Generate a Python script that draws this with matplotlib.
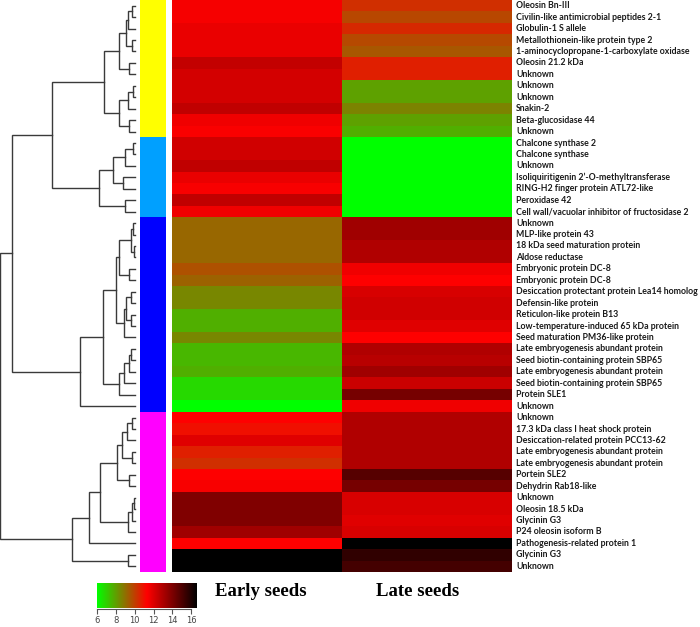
import numpy as np
import matplotlib
matplotlib.use("Agg")
import matplotlib.pyplot as plt
from matplotlib.colors import LinearSegmentedColormap, ListedColormap

# ---------------- data ----------------
proteins = [
    "Oleosin Bn-III", "Civilin-like antimicrobial peptides 2-1", "Globulin-1 S allele",
    "Metallothionein-like protein type 2", "1-aminocyclopropane-1-carboxylate oxidase",
    "Oleosin 21.2 kDa", "Unknown", "Unknown", "Unknown", "Snakin-2",
    "Beta-glucosidase 44", "Unknown", "Chalcone synthase 2", "Chalcone synthase",
    "Unknown", "Isoliquiritigenin 2\u2019-O-methyltransferase",
    "RING-H2 finger protein ATL72-like", "Peroxidase 42",
    "Cell wall/vacuolar inhibitor of fructosidase 2", "Unknown", "MLP-like protein 43",
    "18 kDa seed maturation protein", "Aldose reductase", "Embryonic protein DC-8",
    "Embryonic protein DC-8", "Desiccation protectant protein Lea14 homolog",
    "Defensin-like protein", "Reticulon-like protein B13",
    "Low-temperature-induced 65 kDa protein", "Seed maturation PM36-like protein",
    "Late embryogenesis abundant protein", "Seed biotin-containing protein SBP65",
    "Late embryogenesis abundant protein", "Seed biotin-containing protein SBP65",
    "Protein SLE1", "Unknown", "Unknown", "17.3 kDa class I heat shock protein",
    "Desiccation-related protein PCC13-62", "Late embryogenesis abundant protein",
    "Late embryogenesis abundant protein", "Portein SLE2", "Dehydrin Rab18-like",
    "Unknown", "Oleosin 18.5 kDa", "Glycinin G3", "P24 oleosin isoform B",
    "Pathogenesis-related protein 1", "Glycinin G3", "Unknown",
]

early_seeds = [
    11.45, 11.45, 11.7, 11.7, 11.7, 12.45, 12.15, 12.15, 12.15, 12.55,
    11.55, 11.35, 12.2, 12.2, 12.55, 11.7, 11.4, 12.55, 11.55, 9.15,
    9.15, 9.15, 9.15, 9.6, 9.2, 8.5, 8.5, 7.65, 7.65, 8.5,
    7.5, 7.5, 7.65, 6.8, 6.8, 6.0, 11.25, 10.95, 11.9, 10.6,
    10.3, 11.25, 11.4, 13.85, 13.85, 13.85, 13.2, 11.25, 16.5, 16.5,
]
late_seeds = [
    10.3, 9.8, 10.4, 9.75, 9.45, 10.6, 10.6, 7.95, 7.95, 8.55,
    7.95, 7.65, 6.0, 6.0, 6.0, 6.0, 6.0, 6.0, 6.0, 13.2,
    13.2, 12.85, 12.85, 11.55, 11.25, 12.05, 12.2, 12.2, 11.9, 11.25,
    12.85, 12.7, 13.2, 12.35, 14.05, 11.55, 12.85, 12.85, 12.85, 12.85,
    12.85, 14.7, 14.05, 12.05, 12.05, 11.9, 12.05, 16.5, 15.5, 15.1,
]
columns = ["Early seeds", "Late seeds"]

# cluster membership of every row (0 yellow, 1 light blue, 2 blue, 3 magenta)
cluster_ids = [0] * 12 + [1] * 7 + [2] * 17 + [3] * 14
cluster_colors = ["#FFFF00", "#00A0FF", "#0000FF", "#FF00FF"]

# hierarchical merges: (left, right, height); leaves are 0..49, merges numbered from 50
linkage = [
    (0, 1, 3), (50, 2, 7), (3, 4, 3), (51, 52, 9), (5, 6, 6), (53, 54, 16),
    (7, 8, 2), (56, 9, 7), (10, 11, 6), (57, 58, 16), (55, 59, 31),
    (12, 13, 2), (61, 14, 10), (15, 16, 12), (62, 63, 22), (17, 18, 10), (64, 65, 36),
    (60, 66, 83),
    (19, 20, 2), (21, 22, 1.5), (68, 69, 4), (23, 24, 6), (70, 71, 16),
    (25, 26, 4), (27, 28, 4), (73, 74, 9), (75, 29, 11), (72, 76, 19),
    (30, 31, 4), (78, 32, 6), (79, 33, 11), (80, 34, 16), (77, 81, 32), (82, 35, 55),
    (67, 83, 123),
    (36, 37, 3), (85, 38, 8), (39, 40, 3), (86, 87, 13), (41, 42, 6), (88, 89, 18),
    (43, 44, 1.5), (91, 45, 3), (92, 46, 7), (90, 93, 35), (94, 47, 46),
    (48, 49, 7), (95, 96, 63),
    (84, 97, 135),
]

colorbar_ticks = [6, 8, 10, 12, 14, 16]
vmin, vmax = 6.0, 16.5

# ---------------- figure ----------------
W, H = 700, 627
fig = plt.figure(figsize=(W / 100, H / 100), dpi=100)

def ax_px(x0, y0, w, h):
    return fig.add_axes([x0 / W, 1 - (y0 + h) / H, w / W, h / H])

cmap = LinearSegmentedColormap.from_list(
    "gr_k", [(0.0, "#00FF00"), (0.5, "#FF0000"), (1.0, "#000000")])

n = len(proteins)
top, bottom_px = 0, 572
hm_h = bottom_px - top

# heatmap
ax = ax_px(172, top, 340, hm_h)
data = np.column_stack([early_seeds, late_seeds])
ax.imshow(data, cmap=cmap, vmin=vmin, vmax=vmax, aspect="auto",
          interpolation="nearest", extent=(0, 2, n, 0))
ax.set_xlim(0, 2)
ax.set_ylim(n, 0)
ax.set_xticks([])
ax.set_yticks([])
for s in ax.spines.values():
    s.set_visible(False)
for i, name in enumerate(proteins):
    ax.text(2.024, i + 0.5, name, ha="left", va="center", fontsize=6.3,
            family="Lato", fontweight="bold", color="#1a1a1a")

# cluster side colour bar
axc = ax_px(140, top, 26, hm_h)
axc.imshow(np.array(cluster_ids).reshape(-1, 1), cmap=ListedColormap(cluster_colors),
           vmin=-0.5, vmax=3.5, aspect="auto", interpolation="nearest",
           extent=(0, 1, n, 0))
axc.set_xlim(0, 1)
axc.set_ylim(n, 0)
axc.axis("off")

# dendrogram
axd = ax_px(0, top, 135, hm_h)
pos = {i: (i + 0.5, 0.0) for i in range(n)}
for k, (a, b, h) in enumerate(linkage):
    ya, ha = pos[a]
    yb, hb = pos[b]
    axd.plot([ha, h, h, hb], [ya, ya, yb, yb], color="#3a3a3a", lw=1.0,
             solid_joinstyle="miter", clip_on=False)
    pos[n + k] = ((ya + yb) / 2, h)
axd.set_xlim(135, 0)
axd.set_ylim(n, 0)
axd.axis("off")

# colour key
axk = ax_px(97, 583, 99, 25)
grad = np.linspace(vmin, vmax, 256).reshape(1, -1)
axk.imshow(grad, cmap=cmap, vmin=vmin, vmax=vmax, aspect="auto",
           extent=(vmin, vmax, 0, 1))
axk.set_xlim(vmin, vmax)
axk.set_yticks([])
axk.set_xticks(colorbar_ticks)
axk.set_xticklabels([str(t) for t in colorbar_ticks])
axk.tick_params(axis="x", length=3.5, width=0.8, color="#555555", labelsize=6,
                labelcolor="#444444", pad=1.5)
for s in ["top", "left", "right"]:
    axk.spines[s].set_visible(False)
axk.spines["bottom"].set_position(("outward", 1))
axk.spines["bottom"].set_color("#555555")
axk.spines["bottom"].set_linewidth(0.8)
axk.spines["bottom"].set_bounds(6, 16)

# column titles
title_x = [261, 418]
for j, col in enumerate(columns):
    fig.text(title_x[j] / W, 1 - 592 / H, col, ha="center", va="center",
             fontsize=13.5, family="Liberation Serif", fontweight="bold")

fig.savefig("out.png", dpi=100)
